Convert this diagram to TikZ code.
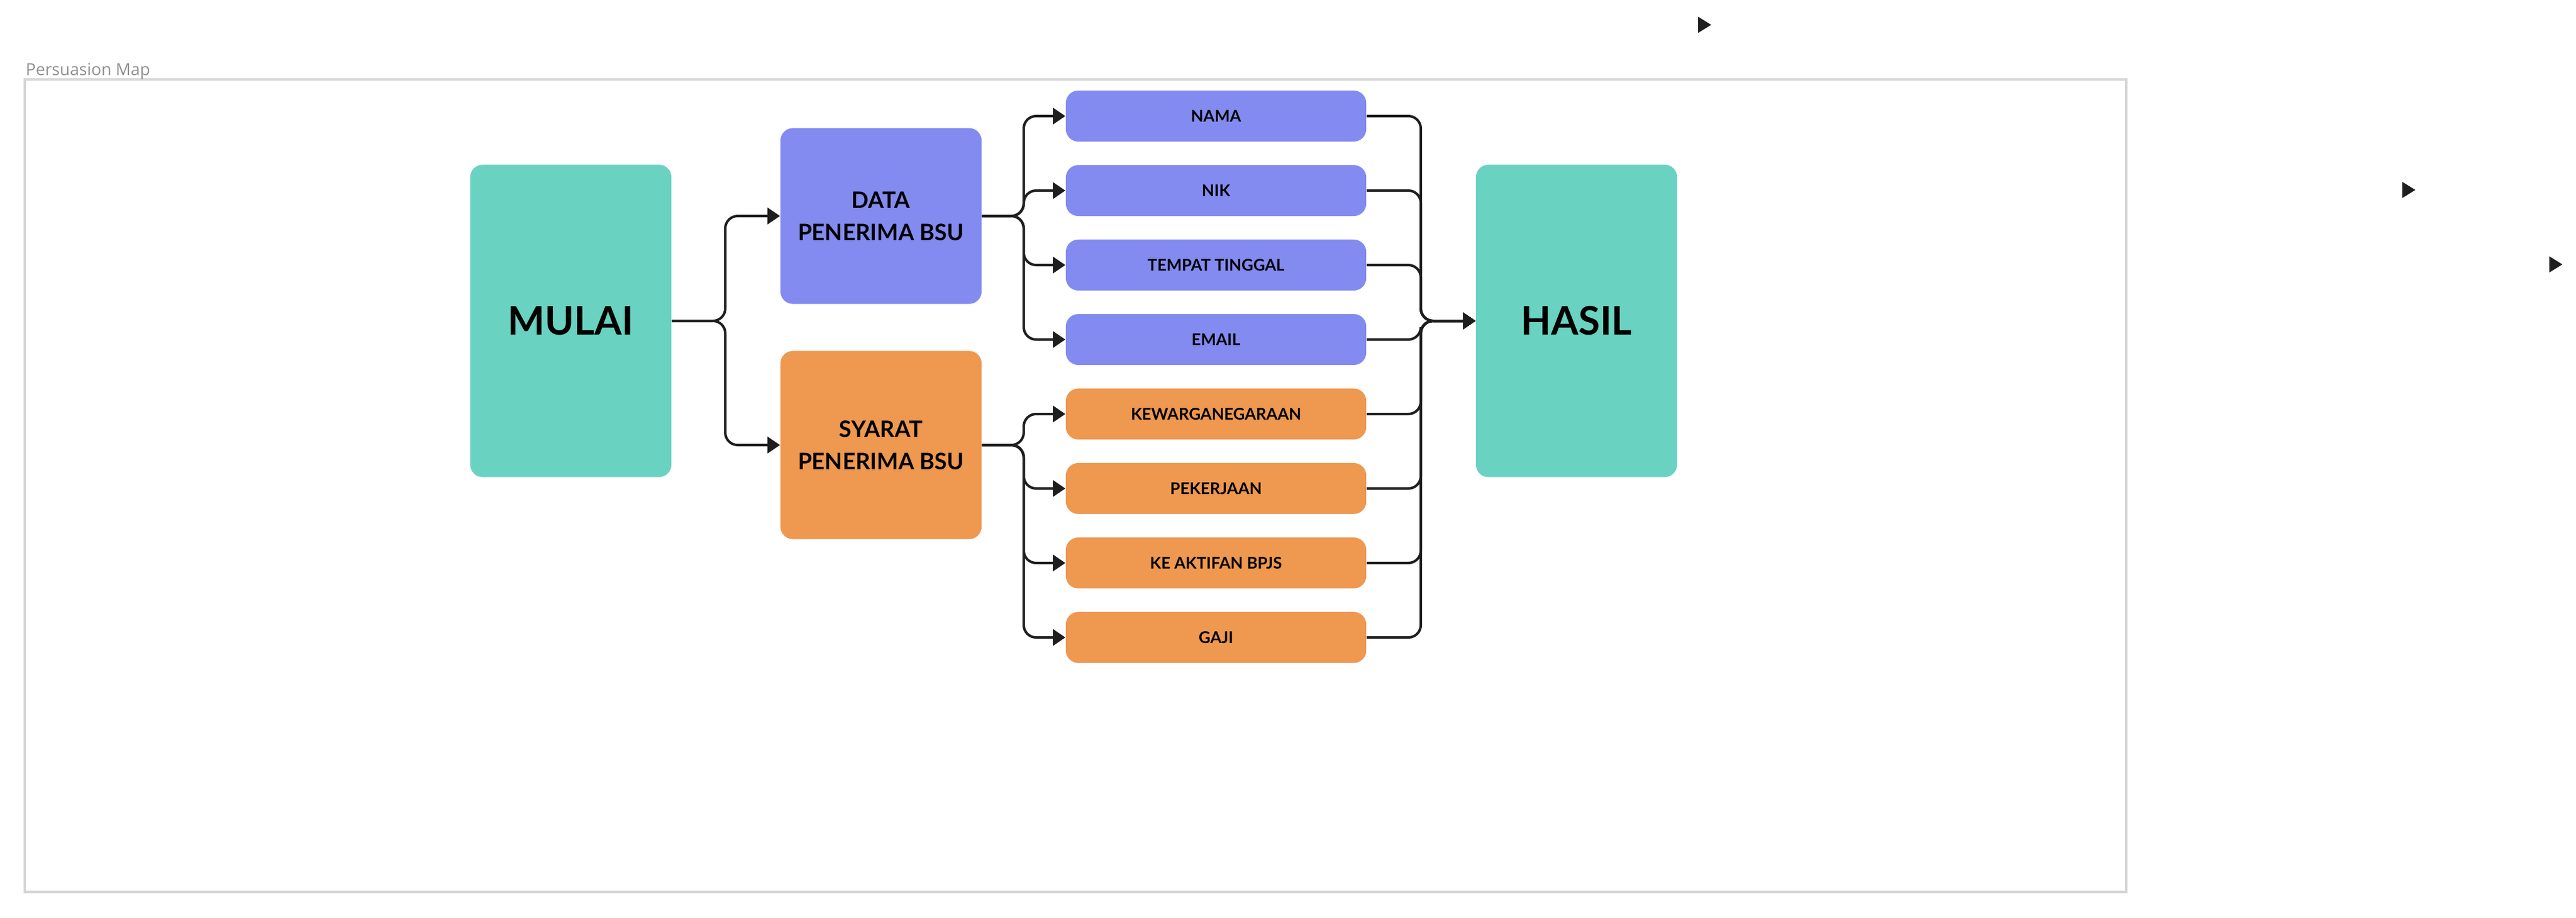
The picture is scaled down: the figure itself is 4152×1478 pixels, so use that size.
\documentclass[tikz,border=0pt]{standalone}
\usepackage{fontspec}
\setmainfont{Lato}
\newfontfamily\mapfont{Open Sans}
\usepackage{xcolor}
\usetikzlibrary{arrows.meta}
\definecolor{mint}{HTML}{6AD2C0}
\definecolor{lilac}{HTML}{838BF0}
\definecolor{peach}{HTML}{EE9850}
\definecolor{ink}{HTML}{1E1E1E}
\definecolor{rim}{HTML}{D6D6D6}

\begin{document}
\begin{tikzpicture}[x=0.01cm,y=-0.01cm,
  endbox/.style={fill=mint,rounded corners=0.2cm,inner sep=0pt,minimum width=3.24cm,minimum height=5.03cm,
    font=\bfseries\fontsize{18}{22}\selectfont},
  groupbox/.style={rounded corners=0.2cm,inner sep=0pt,minimum width=3.24cm,align=center,
    font=\bfseries\fontsize{10.4}{14.8}\selectfont},
  itembox/.style={rounded corners=0.2cm,inner sep=0pt,minimum width=4.84cm,minimum height=0.82cm,
    font=\bfseries\fontsize{7.4}{9}\selectfont},
  link/.style={ink,line width=0.04cm,rounded corners=0.2cm,-{Triangle[length=0.2cm,width=0.26cm]}}]
\useasboundingbox (0,0) rectangle (4152,1478);
% Map frame
\draw[rim,line width=0.04cm] (40,128) rectangle (3427,1437);
\node[anchor=base west,inner sep=0pt,text=black!44,font=\mapfont\fontsize{7.6}{9}\selectfont] (maptitle) at (41,121) {Persuasion Map};
% Start and result
\node[endbox] (mulai) at (920,517) {MULAI};
\node[endbox] (hasil) at (2541,517) {HASIL};
% Groups
\node[groupbox,fill=lilac,minimum height=2.83cm] (data) at (1420,348) {DATA\\PENERIMA BSU};
\node[groupbox,fill=peach,minimum height=3.03cm] (syarat) at (1420,717) {SYARAT\\PENERIMA BSU};
% Items
\foreach \name/\txt/\y in {nama/NAMA/187, nik/NIK/307, tempat/TEMPAT TINGGAL/427, email/EMAIL/547}
  \node[itembox,fill=lilac] (\name) at (1960,\y) {\txt};
\foreach \name/\txt/\y in {warga/KEWARGANEGARAAN/667, kerja/PEKERJAAN/787, bpjs/KE AKTIFAN BPJS/907, gaji/GAJI/1027}
  \node[itembox,fill=peach] (\name) at (1960,\y) {\txt};
% Junctions
\coordinate (jstart) at (1169,517);
\coordinate (jdata) at (1650,348);
\coordinate (jsyarat) at (1650,717);
\coordinate (jhasil) at (2290,517);
% Connectors
\draw[link] (mulai.east) -- (jstart) |- (data.west);
\draw[link] (mulai.east) -- (jstart) |- (syarat.west);
\foreach \n in {nama,nik,tempat,email}
  \draw[link] (data.east) -- (jdata) |- (\n.west);
\foreach \n in {warga,kerja,bpjs,gaji}
  \draw[link] (syarat.east) -- (jsyarat) |- (\n.west);
\foreach \n in {nama,nik,tempat,email,warga,kerja,bpjs,gaji}
  \draw[link] (\n.east) -| (jhasil) -- (hasil.west);
% Loose arrow tips
\foreach \x/\y in {2758/40, 3893/306, 4130/426}
  \fill[ink] (\x,\y) -- ++(-21,-13) -- ++(0,26) -- cycle;
\end{tikzpicture}
\end{document}
